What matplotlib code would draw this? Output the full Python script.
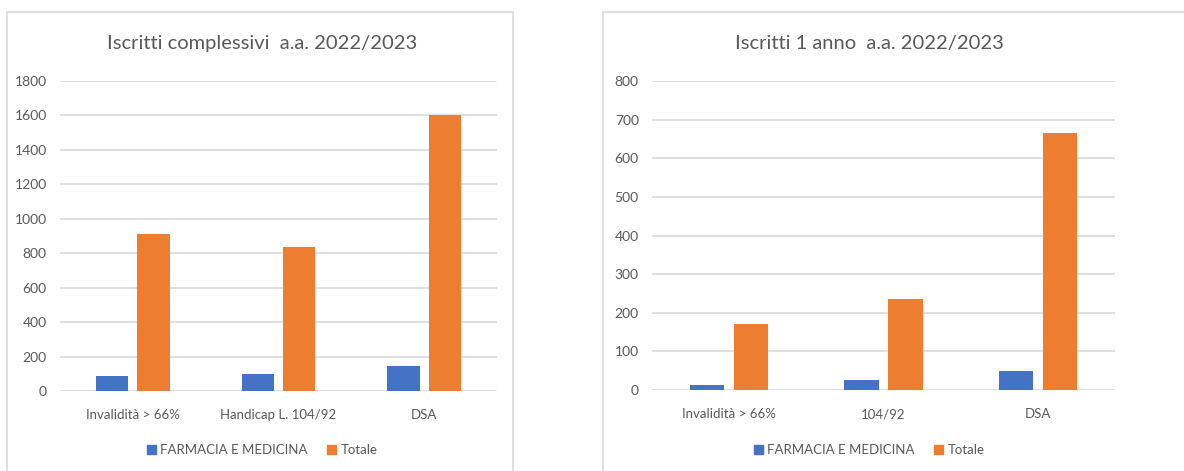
import matplotlib.pyplot as plt
from matplotlib.patches import Rectangle, Patch

# data
cats_tot = ["Invalidità > 66%", "Handicap L. 104/92", "DSA"]
farm_tot = [87, 97, 145]
totale_tot = [911, 838, 1604]

cats_first = ["Invalidità > 66%", "104/92", "DSA"]
farm_first = [14, 26, 49]
totale_first = [170, 235, 666]

series_names = ["FARMACIA E MEDICINA", "Totale"]
BLUE = "#4472C4"
ORANGE = "#ED7D31"
GRID = "#D9D9D9"
TEXT = "#595959"

plt.rcParams["font.family"] = ["Lato", "DejaVu Sans"]

W, H = 1184, 471
fig = plt.figure(figsize=(W / 100, H / 100), dpi=100)


def px_rect(x0, y0, x1, y1):
    """pixel box (top-left origin) -> figure fraction [l, b, w, h]"""
    return [x0 / W, 1 - y1 / H, (x1 - x0) / W, (y1 - y0) / H]


def draw_panel(box, plot_box, title, cats, blue, orange, ymax, step, cx):
    # panel border
    l, b, w, h = px_rect(*box)
    fig.patches.append(Rectangle((l, b), w, h, transform=fig.transFigure,
                                 facecolor="none", edgecolor="#D9D9D9", lw=1.2, zorder=0))

    ax = fig.add_axes(px_rect(*plot_box))
    x = range(len(cats))
    bw = 0.223
    off = 0.142
    ax.bar([i - off for i in x], blue, width=bw, color=BLUE, zorder=3)
    ax.bar([i + off for i in x], orange, width=bw, color=ORANGE, zorder=3)

    ax.set_xlim(-0.5, len(cats) - 0.5)
    ax.set_ylim(0, ymax)
    ax.set_yticks(range(0, ymax + 1, step))
    ax.set_xticks(list(x))
    ax.set_xticklabels(cats)
    ax.tick_params(axis="both", length=0, colors=TEXT)
    ax.tick_params(axis="x", pad=13, labelsize=9.5)
    ax.tick_params(axis="y", pad=9.5, labelsize=10)
    ax.grid(axis="y", color=GRID, lw=1.2, zorder=0)
    for s in ax.spines.values():
        s.set_visible(False)
    ax.set_facecolor("none")

    fig.text(cx / W, 1 - 43 / H, title, ha="center", va="center",
             fontsize=14.5, color=TEXT)

    handles = [Patch(color=BLUE), Patch(color=ORANGE)]
    fig.legend(handles, series_names, loc="center", ncol=2,
               bbox_to_anchor=(cx / W, 1 - 450 / H), frameon=False,
               fontsize=9.5, labelcolor=TEXT, handlelength=0.7, handleheight=0.7,
               handletextpad=0.3, columnspacing=1.5)


draw_panel((7, 12, 513, 480), (60, 81, 497, 391),
           "Iscritti complessivi  a.a. 2022/2023",
           cats_tot, farm_tot, totale_tot, 1800, 200, 262)
draw_panel((603, 12, 1195, 480), (652, 81, 1115, 390),
           "Iscritti 1 anno  a.a. 2022/2023",
           cats_first, farm_first, totale_first, 800, 100, 869)

fig.savefig("out.png", dpi=100)
